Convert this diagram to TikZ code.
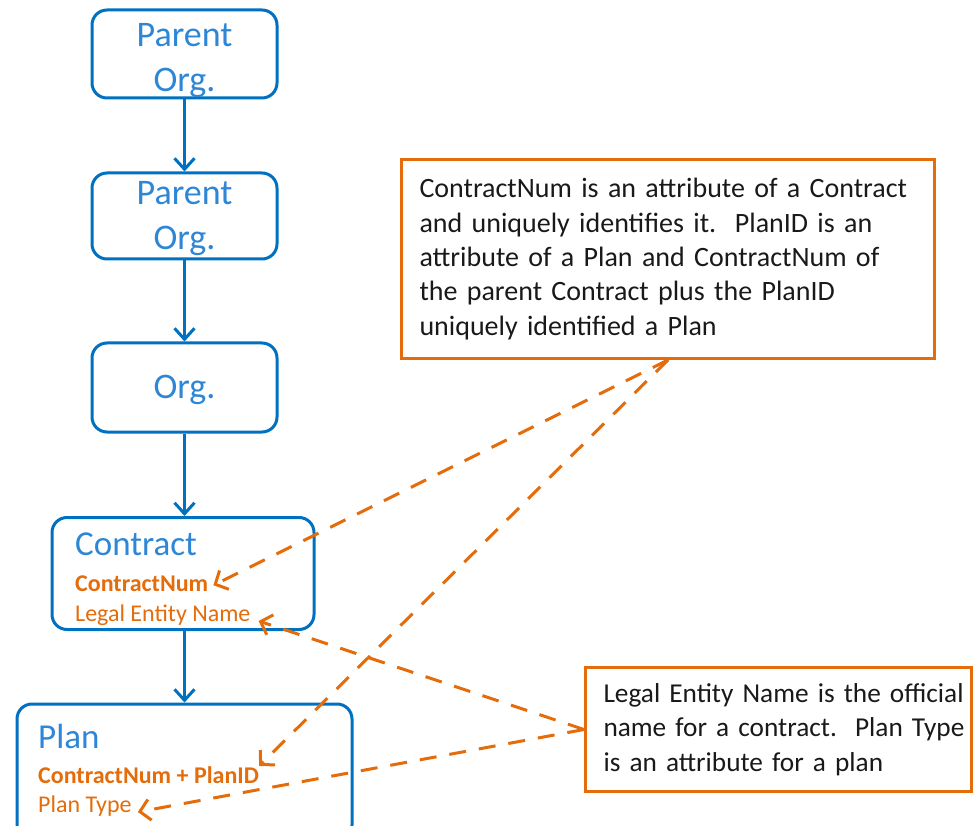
\documentclass[tikz,border=0pt]{standalone}
\usepackage{fontspec}
\setmainfont{Carlito}
\usetikzlibrary{arrows.meta}
\definecolor{orgblue}{RGB}{0,112,192}
\definecolor{txtblue}{RGB}{46,134,214}
\definecolor{noteorange}{RGB}{228,108,10}

\begin{document}
\begin{tikzpicture}[x=1pt,y=-1pt,
    entity/.style={draw=orgblue,line width=3pt,rounded corners=15pt,inner ysep=0pt,text=txtblue,align=center,font=\fontsize{36}{45}\selectfont},
    title/.style={text=txtblue,anchor=base west,inner sep=0pt,font=\fontsize{35}{42}\selectfont},
    attr/.style={text=noteorange,anchor=base west,inner sep=0pt,font=\fontsize{24}{30}\selectfont},
    note/.style={draw=noteorange,line width=3pt,text=black!90,align=left,anchor=north west,inner xsep=18pt,font=\fontsize{28}{34.3}\selectfont},
    link/.style={-{Straight Barb[length=11pt,width=20pt]},draw=orgblue,line width=3pt},
    ref/.style={-{Straight Barb[length=10pt,width=21pt]},draw=noteorange,line width=3pt,dash pattern=on 17pt off 13pt}]
    \useasboundingbox (0,0) rectangle (980,826);
    % org chain
    \node[entity,minimum width=185pt,minimum height=88pt] (org1) at (184.5,54) {\rule{0pt}{36pt}Parent\\Org.};
    \node[entity,minimum width=185pt,minimum height=86pt] (org2) at (184.5,216) {\rule{0pt}{29pt}Parent\\Org.};
    \node[entity,minimum width=185pt,minimum height=89pt] (org3) at (184.5,387.5) {\rule{0pt}{29pt}Org.};
    \node[entity,minimum width=262pt,minimum height=112pt] (contract) at (183,573.5) {};
    \node[entity,minimum width=335pt,minimum height=136pt] (plan) at (184.5,772) {};
    % box contents
    \node[title] (contractT) at (75,555) {Contract};
    \node[attr,font=\fontsize{24}{30}\selectfont\bfseries] (cnum) at (75,591) {ContractNum};
    \node[attr] (lename) at (75,621) {Legal Entity Name};
    \node[title] (planT) at (38,748) {Plan};
    \node[attr,font=\fontsize{24}{30}\selectfont\bfseries] (pid) at (38,783) {ContractNum + PlanID};
    \node[attr] (ptype) at (38,812) {Plan Type};
    \draw[link] (org1) -- (org2);
    \draw[link] (org2) -- (org3);
    \draw[link] (org3.south) -- (org3.south |- contract.north);
    \draw[link] (contract.south -| org3.south) -- (org3.south |- plan.north);
    % notes
    \node[note,minimum width=533pt,minimum height=199pt,text width=497pt] (noteA) at (400,158) {ContractNum is an attribute of a Contract\\and uniquely identifies it.\ \ PlanID is an\\attribute of a Plan and ContractNum of\\the parent Contract plus the PlanID\\uniquely identified a Plan};
    \node[note,minimum width=386pt,minimum height=124pt,text width=350pt,font=\fontsize{27.3}{34.3}\selectfont] (noteB) at (584,666) {\mbox{Legal Entity Name is the official}\\\mbox{name for a contract.\ \ Plan Type}\\\mbox{is an attribute for a plan}};
    \draw[ref] (noteA.south) -- ([xshift=5pt,yshift=-2pt]cnum.east);
    \draw[ref] (noteA.south) -- (pid.north east);
    \draw[ref] (noteB.west) -- ([xshift=8pt]lename.base east);
    \draw[ref] (noteB.west) -- ([xshift=6pt]ptype.base east);
\end{tikzpicture}
\end{document}
